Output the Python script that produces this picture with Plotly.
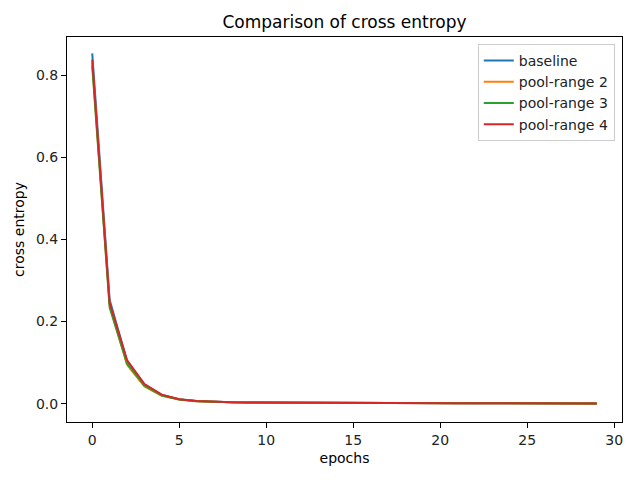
import plotly.graph_objects as go

epochs = list(range(30))

baseline = [0.853, 0.253, 0.104, 0.047, 0.021, 0.011, 0.0065, 0.0045, 0.0035, 0.0030,
            0.0027, 0.0025, 0.0023, 0.0021, 0.0019, 0.0017, 0.0015, 0.0014, 0.0013, 0.0012,
            0.0011, 0.0010, 0.0010, 0.0009, 0.0009, 0.0008, 0.0008, 0.0007, 0.0007, 0.0007]
pool2 = [0.830, 0.240, 0.095, 0.042, 0.019, 0.010, 0.0060, 0.0042, 0.0033, 0.0028,
         0.0025, 0.0023, 0.0021, 0.0019, 0.0017, 0.0016, 0.0014, 0.0013, 0.0012, 0.0011,
         0.0010, 0.0010, 0.0009, 0.0009, 0.0008, 0.0008, 0.0007, 0.0007, 0.0007, 0.0006]
pool3 = [0.822, 0.234, 0.098, 0.044, 0.020, 0.010, 0.0062, 0.0043, 0.0034, 0.0029,
         0.0026, 0.0024, 0.0022, 0.0020, 0.0018, 0.0016, 0.0015, 0.0014, 0.0013, 0.0012,
         0.0011, 0.0010, 0.0009, 0.0009, 0.0008, 0.0008, 0.0008, 0.0007, 0.0007, 0.0006]
pool4 = [0.838, 0.245, 0.106, 0.048, 0.022, 0.011, 0.0066, 0.0046, 0.0036, 0.0031,
         0.0028, 0.0026, 0.0024, 0.0022, 0.0020, 0.0018, 0.0016, 0.0015, 0.0014, 0.0013,
         0.0012, 0.0011, 0.0010, 0.0010, 0.0009, 0.0009, 0.0008, 0.0008, 0.0007, 0.0007]

series = [("baseline", baseline, "#1f77b4"),
          ("pool-range 2", pool2, "#ff7f0e"),
          ("pool-range 3", pool3, "#2ca02c"),
          ("pool-range 4", pool4, "#d62728")]

fig = go.Figure()
for name, vals, color in series:
    fig.add_trace(go.Scatter(x=epochs, y=vals, mode="lines", name=name,
                             line=dict(color=color, width=2)))

axis_common = dict(showline=True, linecolor="black", linewidth=1, mirror=True,
                   ticks="outside", ticklen=5, tickwidth=1, tickcolor="black",
                   showgrid=False, zeroline=False,
                   tickfont=dict(size=14, color="#222"))

fig.update_layout(
    width=640, height=480,
    paper_bgcolor="white", plot_bgcolor="white",
    font=dict(family="DejaVu Sans", size=14, color="black"),
    margin=dict(l=67, r=18, t=37, b=58),
    title=dict(text="Comparison of cross entropy", xref="paper", x=0.5, xanchor="center",
               y=1 - 22 / 480, yanchor="middle", font=dict(size=17)),
    xaxis=dict(range=[-1.45, 30.45], tickvals=[0, 5, 10, 15, 20, 25, 30],
               title=dict(text="epochs", standoff=6, font=dict(size=14)), **axis_common),
    yaxis=dict(range=[-0.0446, 0.893], tickvals=[0.0, 0.2, 0.4, 0.6, 0.8],
               tickformat=".1f",
               title=dict(text="cross entropy", standoff=8, font=dict(size=14)), **axis_common),
    legend=dict(x=0.987, y=0.982, xanchor="right", yanchor="top",
                bordercolor="#cccccc", borderwidth=1, bgcolor="rgba(255,255,255,0.8)",
                font=dict(size=14, color="#222"), itemwidth=30,
                tracegroupgap=0),
    showlegend=True,
)

fig.write_html("out.html", config={"displayModeBar": False},
               post_script="document.body.style.margin='0';document.body.style.padding='0';")
